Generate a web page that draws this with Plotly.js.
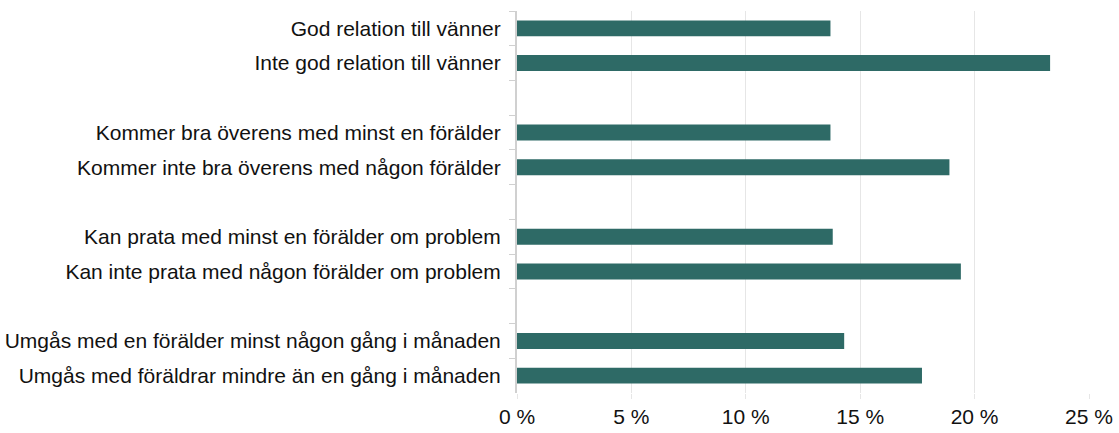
<!DOCTYPE html>
<html>
<head>
<meta charset="utf-8">
<script src="https://cdn.plot.ly/plotly-3.0.1.min.js"></script>
<style>
  html, body { margin: 0; padding: 0; background: #fff; }
  #chart { width: 1119px; height: 433px; }
</style>
</head>
<body>
<div id="chart"></div>
<script>
// categories top to bottom; blank entries are the gaps between groups
const categories = [
    'God relation till vänner',
    'Inte god relation till vänner',
    ' ',
    'Kommer bra överens med minst en förälder',
    'Kommer inte bra överens med någon förälder',
    '  ',
    'Kan prata med minst en förälder om problem',
    'Kan inte prata med någon förälder om problem',
    '   ',
    'Umgås med en förälder minst någon gång i månaden',
    'Umgås med föräldrar mindre än en gång i månaden'
];
const shares = [13.7, 23.3, null, 13.7, 18.9, null, 13.8, 19.4, null, 14.3, 17.7];
const xTicks = [0, 5, 10, 15, 20, 25];
const xTickLabels = ['0 %', '5 %', '10 %', '15 %', '20 %', '25 %'];

const trace = {
    type: 'bar',
    orientation: 'h',
    y: categories,
    x: shares,
    marker: { color: '#2e6a66', line: { width: 0 } },
    hoverinfo: 'x+y'
};

const layout = {
    width: 1119,
    height: 433,
    margin: { l: 517, r: 30, t: 11, b: 40 },
    paper_bgcolor: '#fff',
    plot_bgcolor: '#fff',
    font: { family: 'Liberation Sans, Arial, sans-serif', size: 21, color: '#111' },
    showlegend: false,
    bargap: 0.54,
    xaxis: {
        range: [0, 25],
        tickvals: xTicks,
        ticktext: xTickLabels,
        showgrid: true,
        gridcolor: '#e6e6e6',
        gridwidth: 1,
        zeroline: false,
        showline: false,
        ticks: 'outside',
        ticklen: 5,
        tickcolor: '#e6e6e6',
        fixedrange: true
    },
    yaxis: {
        type: 'category',
        categoryorder: 'array',
        categoryarray: categories,
        autorange: 'reversed',
        showline: true,
        linecolor: '#d0d0d0',
        linewidth: 2,
        ticks: 'outside',
        tickson: 'boundaries',
        ticklen: 6,
        tickcolor: '#d0d0d0',
        ticklabelstandoff: 10,
        showgrid: false,
        zeroline: false,
        fixedrange: true
    }
};

Plotly.newPlot('chart', [trace], layout, { displayModeBar: false, staticPlot: true });
</script>
</body>
</html>
